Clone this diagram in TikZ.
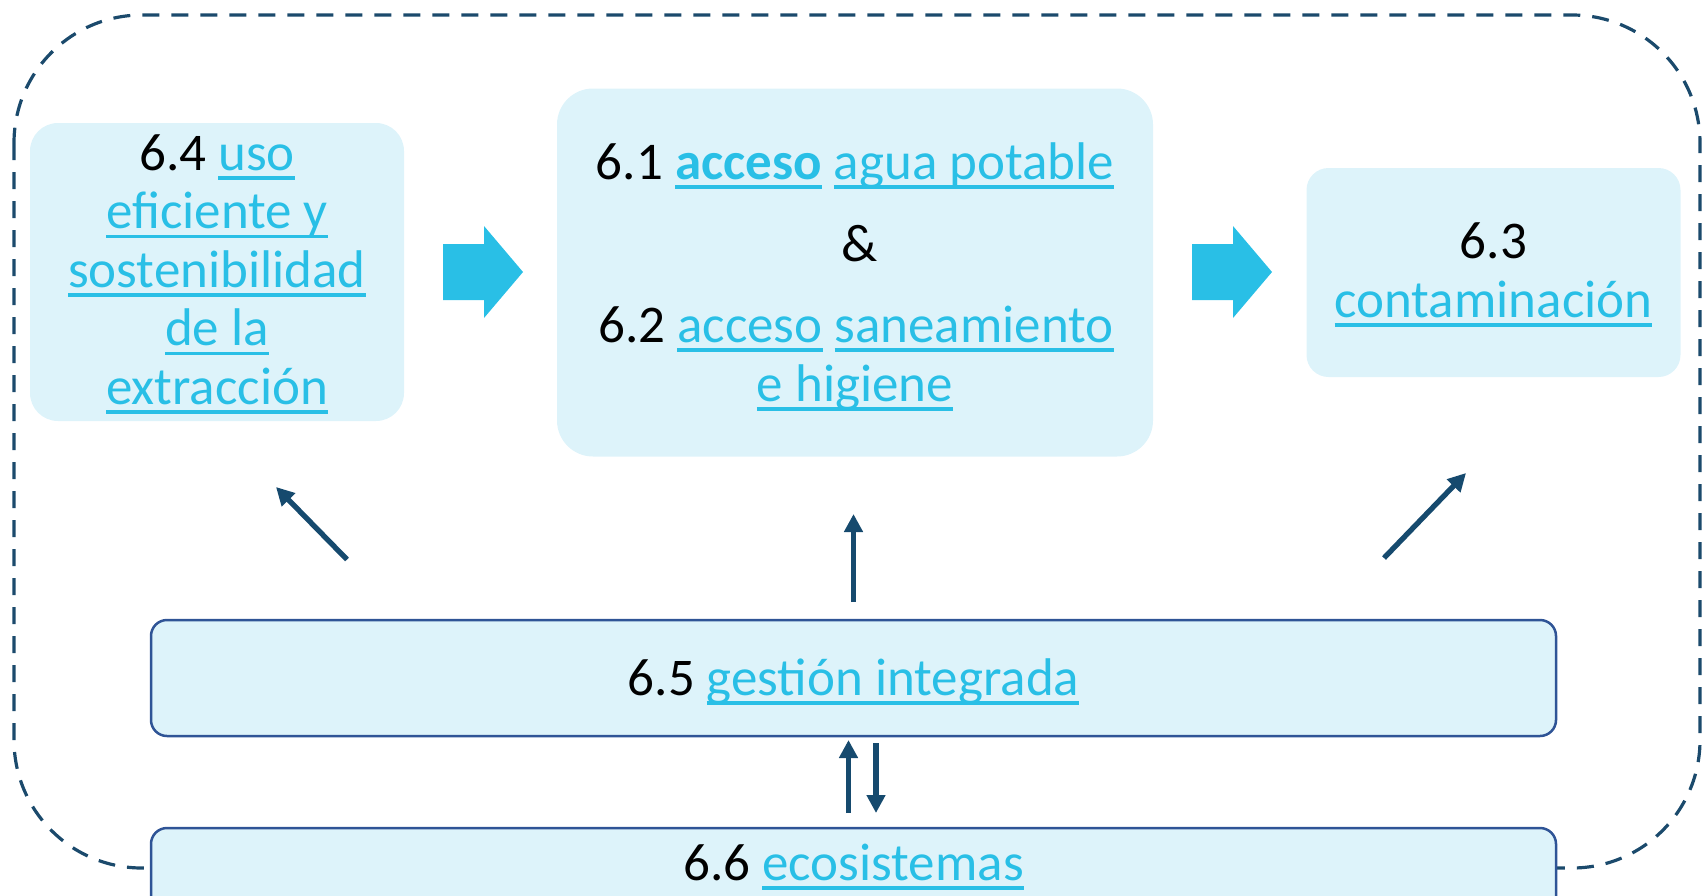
\documentclass[tikz,border=0pt]{standalone}
\usepackage{fontspec}
\setmainfont{Carlito}
\usetikzlibrary{arrows.meta}
\definecolor{boxfill}{HTML}{DDF3FA}
\definecolor{linkcol}{HTML}{29BFE6}
\definecolor{darkarrow}{HTML}{164A6E}
\definecolor{boxborder}{HTML}{2F5496}
\definecolor{dashcol}{HTML}{1B4A6C}
\newsavebox{\lnkbox}
\newcommand{\lnk}[1]{{\color{linkcol}\sbox{\lnkbox}{#1}\rlap{\rule[-9.5pt]{\wd\lnkbox}{3.2pt}}\usebox{\lnkbox}}}
\tikzset{
  softbox/.style={fill=boxfill, draw=none, inner sep=0pt, outer sep=0pt},
  framebox/.style={fill=boxfill, draw=boxborder, line width=2.5pt, rounded corners=16pt, inner sep=0pt, outer sep=0pt},
  txt/.style={inner sep=0pt, outer sep=0pt, anchor=base, font=\fontsize{53}{58.6}\selectfont},
  darr/.style={draw=darkarrow, line width=5.3pt, -{Triangle[length=18pt,width=18pt]}},
  blockarrow/.style={fill=linkcol, draw=none},
  outline/.style={draw=dashcol, line width=3.2pt, dash pattern=on 17pt off 12pt, rounded corners=128pt},
}
\begin{document}
\begin{tikzpicture}[x=1pt,y=-1pt]
\useasboundingbox (0,0) rectangle (1702,895);
\clip (0,0) rectangle (1702,895);

% dashed outline
\draw[outline] (14,15) rectangle (1700,868);

% top boxes
\node[softbox, rounded corners=28pt, minimum width=374pt, minimum height=298pt] (b64) at (217,272) {};
\node[softbox, rounded corners=36pt, minimum width=596pt, minimum height=368pt] (b61) at (855,272.5) {};
\node[softbox, rounded corners=22pt, minimum width=374pt, minimum height=209pt] (b63) at (1493.5,272.5) {};

% texts 6.4
\node[txt] (t64a) at (217,170) {6.4 \lnk{uso}};
\node[txt] (t64b) at (217,228.5) {\lnk{eficiente y}};
\node[txt] (t64c) at (217,287) {\lnk{sostenibilidad}};
\node[txt] (t64d) at (217,345.5) {\lnk{de la}};
\node[txt] (t64e) at (217,404) {\lnk{extracción}};

% texts 6.1 / 6.2
\node[txt] (t61) at (855,179) {6.1 \lnk{\textbf{acceso}} \lnk{agua potable}};
\node[txt] (tamp) at (860,261) {\&};
\node[txt] (t62a) at (856,342) {6.2 \lnk{acceso} \lnk{saneamiento}};
\node[txt] (t62b) at (855,401) {\lnk{e higiene}};

% texts 6.3
\node[txt] (t63a) at (1493.5,258) {6.3};
\node[txt] (t63b) at (1493.5,317) {\lnk{contaminación}};

% block arrows
\fill[blockarrow] (443,244) -- (484,244) -- (484,226) -- (523,272) -- (484,318) -- (484,300) -- (443,300) -- cycle;
\fill[blockarrow] (1192,244) -- (1233,244) -- (1233,226) -- (1272,272) -- (1233,318) -- (1233,300) -- (1192,300) -- cycle;

% bottom boxes
\node[framebox, minimum width=1405pt, minimum height=116pt] (b65) at (853.5,678) {};
\node[framebox, minimum width=1405pt, minimum height=160pt] (b66) at (853.5,908) {};
\node[txt] (t65) at (853.5,695) {6.5 \lnk{gestión integrada}};
\node[txt] (t66) at (853.5,880) {6.6 \lnk{ecosistemas}};

% dark arrows
\coordinate (l1) at (347,559.5);
\coordinate (l2) at (276,487);
\coordinate (c1) at (853.5,602);
\coordinate (c2) at (853.5,514);
\coordinate (r1) at (1384,558);
\coordinate (r2) at (1466,473);
\coordinate (u1) at (848.5,813);
\coordinate (u2) at (848.5,740);
\coordinate (d1) at (876,743);
\coordinate (d2) at (876,813);
\draw[darr] (l1) -- (l2);
\draw[darr] (c1) -- (c2);
\draw[darr] (r1) -- (r2);
\draw[darr] (u1) -- (u2);
\draw[darr] (d1) -- (d2);
\end{tikzpicture}
\end{document}
